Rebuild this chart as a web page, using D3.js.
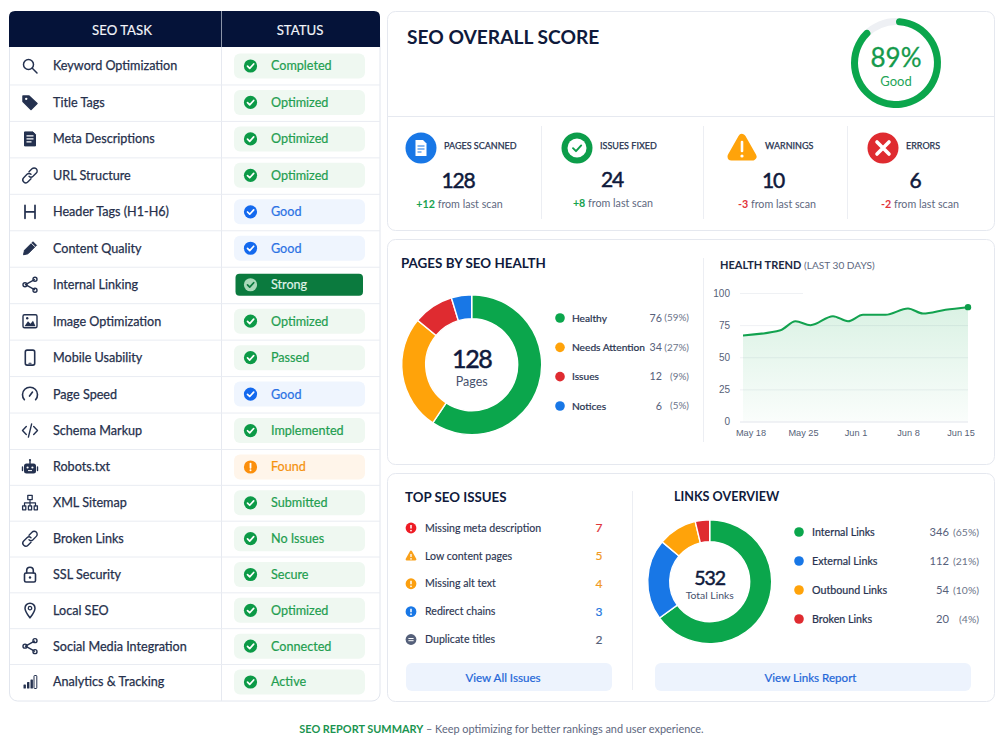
<!DOCTYPE html>
<html>
<head>
<meta charset="utf-8">
<title>SEO Report</title>
<script src="https://cdn.jsdelivr.net/npm/d3@7/dist/d3.min.js"></script>
<style>
  html, body { margin: 0; padding: 0; background: #fff; }
  svg { display: block; font-family: Lato, "Noto Sans", sans-serif; }
  text { fill: #1c2742; }
</style>
</head>
<body>
<svg id="board" width="1000" height="750"></svg>
<script>
// ---- Report data ----
const taskNames = ["Keyword Optimization","Title Tags","Meta Descriptions","URL Structure","Header Tags (H1-H6)","Content Quality","Internal Linking","Image Optimization","Mobile Usability","Page Speed","Schema Markup","Robots.txt","XML Sitemap","Broken Links","SSL Security","Local SEO","Social Media Integration","Analytics & Tracking"];
const taskStatuses = ["Completed","Optimized","Optimized","Optimized","Good","Good","Strong","Optimized","Passed","Good","Implemented","Found","Submitted","No Issues","Secure","Optimized","Connected","Active"];
const taskIcons = ["search","tag","doc","link","heading","pencil","share","image","phone","gauge","code","robot","tree","link","lock","pin","share","bars"];

const overallScore = 89;
const overallLabel = "Good";

const statLabels = ["PAGES SCANNED","ISSUES FIXED","WARNINGS","ERRORS"];
const statValues = [128, 24, 10, 6];
const statDeltas = ["+12","+8","-3","-2"];

const healthLabels = ["Healthy","Needs Attention","Issues","Notices"];
const healthValues = [76, 34, 12, 6];

const trendDates = ["2025-05-17","2025-05-22","2025-05-24","2025-05-26","2025-05-29","2025-05-31","2025-06-02","2025-06-05","2025-06-08","2025-06-10","2025-06-13","2025-06-16"];
const trendValues = [67, 71, 78, 75, 82, 78, 83, 83, 88, 84, 87, 89];
const trendTicks = ["2025-05-18","2025-05-25","2025-06-01","2025-06-08","2025-06-15"];

const issueLabels = ["Missing meta description","Low content pages","Missing alt text","Redirect chains","Duplicate titles"];
const issueCounts = [7, 5, 4, 3, 2];

const linkLabels = ["Internal Links","External Links","Outbound Links","Broken Links"];
const linkValues = [346, 112, 54, 20];

// ---- Palette ----
const GREEN = "#0ba64c", ORANGE = "#ffa30a", RED = "#df2b30", BLUE = "#1877e6", NAVY = "#0f1a3c";
const healthColors = [GREEN, ORANGE, RED, BLUE];
const linkColors = [GREEN, BLUE, ORANGE, RED];
const issueColors = ["#ee1c25", "#f9a11b", "#fb9f0f", "#1877e6", "#55607a"];
const issueTextColors = ["#e0353a", "#f19a24", "#f19a24", "#1f78e0", "#55607a"];
const statusStyles = {
  green:  { bg: "#eff8f1", dot: "#0c9a47", text: "#1f9e50", mark: "#fff" },
  blue:   { bg: "#eff5fe", dot: "#1369ee", text: "#2b72e4", mark: "#fff" },
  orange: { bg: "#fff5ea", dot: "#fb8f0c", text: "#f5920f", mark: "#fff" },
  dark:   { bg: "#0b7a3e", dot: "#a9d9b9", text: "#dff2e6", mark: "#0b7a3e" }
};
const statusKind = s => s === "Good" ? "blue" : s === "Found" ? "orange" : s === "Strong" ? "dark" : "green";

const svg = d3.select("#board");
const defs = svg.append("defs");

function label(g, x, y, str, size, opts = {}) {
  const fill = opts.fill || "#1c2742";
  const t = g.append("text").attr("x", x).attr("y", y).attr("dy", "0.35em")
    .attr("font-size", size).attr("font-weight", opts.weight || 400)
    .attr("text-anchor", opts.anchor || "start")
    .style("fill", fill).text(str);
  // A hairline of the same ink gives the regular cut a medium look
  if (opts.thick) t.attr("stroke", fill).attr("stroke-width", opts.thick);
  if (opts.tight) t.attr("letter-spacing", opts.tight);
  return t;
}
function card(x, y, w, h) {
  svg.append("rect").attr("x", x + .5).attr("y", y + .5).attr("width", w).attr("height", h)
    .attr("rx", 8).attr("fill", "#fff").attr("stroke", "#e5e8ef");
}
function rule(x1, y1, x2, y2, color = "#e6e9f0") {
  svg.append("line").attr("x1", x1).attr("y1", y1).attr("x2", x2).attr("y2", y2).attr("stroke", color);
}

// ---- Task pictograms, each drawn around the origin in a 20px box ----
const iconInk = "#24314f";
const pictograms = {
  search: g => { g.append("circle").attr("cx", -1.5).attr("cy", -1.5).attr("r", 5).call(line); g.append("path").attr("d", "M2.3 2.3L7 7").call(line); },
  tag: g => { g.append("path").attr("d", "M-7 -6.5L-1 -6.5L7 1L1 7L-7 -1Z").attr("fill", iconInk).attr("stroke", iconInk).attr("stroke-linejoin", "round").attr("stroke-width", 1.5); g.append("circle").attr("cx", -3.8).attr("cy", -3.6).attr("r", 1.2).attr("fill", "#fff"); },
  doc: g => { g.append("path").attr("d", "M-5.5 -7H3L5.5 -4.5V7H-5.5Z").attr("fill", iconInk).attr("stroke", iconInk).attr("stroke-linejoin", "round"); g.append("path").attr("d", "M-3.5 -3H3.5M-3.5 0H3.5M-3.5 3H1.5").attr("stroke", "#fff").attr("stroke-width", 1.1); },
  link: g => { g.append("path").attr("d", "M-1 -3.5L2 -6.5A2.9 2.9 0 0 1 6.3 -2.3L3 1A2.9 2.9 0 0 1 -1 1M1 3.5L-2 6.5A2.9 2.9 0 0 1 -6.3 2.3L-3 -1A2.9 2.9 0 0 1 1 -1").call(line, 1.4); },
  heading: g => { g.append("path").attr("d", "M-5 -6.5V6.5M5 -6.5V6.5M-5 0H5").call(line, 1.7); },
  pencil: g => { g.append("path").attr("d", "M-6.5 6.5L-5.5 2L3 -6.5L6.5 -3L-2 5.5Z").attr("fill", iconInk).attr("stroke", iconInk).attr("stroke-linejoin", "round"); g.append("path").attr("d", "M1.5 -5L5 -1.5").attr("stroke", "#fff").attr("stroke-width", 1); },
  share: g => { g.append("path").attr("d", "M-4.5 0L4.5 -5M-4.5 0L4.5 5").call(line, 1.4); [[-5, 0], [5, -5.5], [5, 5.5]].forEach(([x, y]) => g.append("circle").attr("cx", x).attr("cy", y).attr("r", 2).attr("fill", "#fff").call(line, 1.4)); },
  image: g => { g.append("rect").attr("x", -7).attr("y", -6.5).attr("width", 14).attr("height", 13).attr("rx", 1.5).call(line, 1.4); g.append("path").attr("d", "M-5.5 5L-2 0L0.5 2.5L3 -.5L5.5 5Z").attr("fill", iconInk); g.append("circle").attr("cx", -2.8).attr("cy", -3).attr("r", 1.2).attr("fill", iconInk); },
  phone: g => { g.append("rect").attr("x", -4.7).attr("y", -7.5).attr("width", 9.4).attr("height", 15).attr("rx", 1.8).call(line, 1.6); g.append("path").attr("d", "M-1 5.6H1").call(line, 1.2); },
  gauge: g => { g.append("path").attr("d", "M-5.6 5.6A7.5 7.5 0 1 1 5.6 5.6").call(line, 1.6); g.append("path").attr("d", "M-.5 2L2.5 -2").call(line, 1.6); },
  code: g => { g.append("path").attr("d", "M-3.7 -4L-7.5 0L-3.7 4M3.7 -4L7.5 0L3.7 4M1.6 -6.5L-1.6 6.5").call(line, 1.4); },
  robot: g => { g.append("rect").attr("x", -6).attr("y", -3.5).attr("width", 12).attr("height", 10).attr("rx", 2.5).attr("fill", iconInk); g.append("path").attr("d", "M-7.5 0V3.5M7.5 0V3.5M0 -3.5V-6.5").call(line, 1.4); g.append("circle").attr("cy", -7).attr("r", 1.1).attr("fill", iconInk); [-2.4, 2.4].forEach(x => g.append("circle").attr("cx", x).attr("cy", 0.5).attr("r", 1.1).attr("fill", "#fff")); g.append("path").attr("d", "M-2 3.6H2").attr("stroke", "#fff"); },
  tree: g => { g.append("rect").attr("x", -2.2).attr("y", -7.5).attr("width", 4.4).attr("height", 4.2).call(line, 1.3); g.append("path").attr("d", "M0 -3.3V3M-5.5 3V0H5.5V3").call(line, 1.2); [-5.8, 0, 5.8].forEach(x => g.append("rect").attr("x", x - 1.6).attr("y", 3).attr("width", 3.2).attr("height", 4).call(line, 1.3)); },
  lock: g => { g.append("rect").attr("x", -5.5).attr("y", -1.5).attr("width", 11).attr("height", 9).attr("rx", 1.5).call(line, 1.6); g.append("path").attr("d", "M-3.3 -1.5V-4A3.3 3.3 0 0 1 3.3 -4V-1.5").call(line, 1.6); g.append("circle").attr("cy", 3).attr("r", 1.2).attr("fill", iconInk); },
  pin: g => { g.append("path").attr("d", "M0 7.5C-3 3.5 -5 1 -5 -2.2A5 5 0 0 1 5 -2.2C5 1 3 3.5 0 7.5Z").call(line, 1.5); g.append("circle").attr("cy", -2.2).attr("r", 1.7).call(line, 1.3); },
  bars: g => { [[-6.5, 2.5, 4], [-3, 0, 6.5], [.5, -2.5, 9], [4, -6.5, 13]].forEach(([x, y, h], i) => g.append("rect").attr("x", x).attr("y", y).attr("width", i === 3 ? 2.8 : 2.4).attr("height", h).attr("rx", .6).attr("fill", i === 3 ? "none" : iconInk).attr("stroke", iconInk).attr("stroke-width", i === 3 ? 1 : 0)); }
};
function line(sel, w = 1.5) {
  sel.attr("fill", "none").attr("stroke", iconInk).attr("stroke-width", w).attr("stroke-linecap", "round").attr("stroke-linejoin", "round");
}

// ---- Task table ----
function drawTable() {
  const x0 = 9, x1 = 380, split = 221, top = 11, head = 47, bottom = 701;
  svg.append("rect").attr("x", x0 + .5).attr("y", top + 20).attr("width", x1 - x0 - .5).attr("height", bottom - top - 20)
    .attr("rx", 8).attr("fill", "#fff").attr("stroke", "#e2e6ee");
  svg.append("path").attr("fill", "#051339")
    .attr("d", `M${x0} ${head}V${top + 6}Q${x0} ${top} ${x0 + 6} ${top}H${x1 - 6}Q${x1} ${top} ${x1} ${top + 6}V${head}Z`);
  rule(split + .5, top, split + .5, head, "#8b94a8");
  rule(split + .5, head, split + .5, bottom, "#e6e9f0");
  label(svg, 122, 30, "SEO TASK", 13.2, { anchor: "middle", fill: "#f3f5fa", thick: .15 });
  label(svg, 300, 30, "STATUS", 13.2, { anchor: "middle", fill: "#f3f5fa", thick: .15 });

  // Row heights tighten slightly below the Robots.txt row
  const rowMid = d3.scaleLinear().domain([0, 11, 17]).range([66, 467, 682]);
  const rows = svg.append("g").selectAll("g").data(taskNames).join("g")
    .attr("transform", (d, i) => `translate(0,${rowMid(i)})`);

  rows.filter((d, i) => i > 0).append("line")
    .attr("x1", x0 + 1).attr("x2", x1)
    .attr("y1", (d, i) => Math.round((rowMid(i) - rowMid(i + 1)) / 2) + .5)
    .attr("y2", (d, i) => Math.round((rowMid(i) - rowMid(i + 1)) / 2) + .5)
    .attr("stroke", "#e9ecf2");

  rows.each(function (d, i) {
    const g = d3.select(this);
    pictograms[taskIcons[i]](g.append("g").attr("transform", "translate(30,0)"));
    label(g, 53, 0, d, 12.6, { fill: "#26304c", thick: .25 });
    const status = taskStatuses[i], kind = statusKind(status), st = statusStyles[kind];
    const inset = kind === "dark" ? [235.5, 127.5, 22] : [234, 131, 25];
    g.append("rect").attr("x", inset[0]).attr("y", -inset[2] / 2).attr("width", inset[1]).attr("height", inset[2])
      .attr("rx", kind === "dark" ? 4 : 6).attr("fill", st.bg);
    statusBadge(g.append("g").attr("transform", "translate(250.5,0)"), kind, st);
    label(g, 271, 0, status, 12.6, { fill: st.text, thick: .2 });
  });
}
function statusBadge(g, kind, st) {
  g.append("circle").attr("r", 6.6).attr("fill", st.dot);
  if (kind === "orange") {
    g.append("path").attr("d", "M0 -3.4V.8").attr("stroke", st.mark).attr("stroke-width", 1.8).attr("stroke-linecap", "round");
    g.append("circle").attr("cy", 3.3).attr("r", 1).attr("fill", st.mark);
  } else {
    g.append("path").attr("d", "M-3 .2L-.8 2.4L3.2 -2").attr("fill", "none").attr("stroke", st.mark).attr("stroke-width", 1.7).attr("stroke-linecap", "round").attr("stroke-linejoin", "round");
  }
}

// ---- Overall score ring and counters ----
function drawScore() {
  card(387, 11, 607, 219);
  rule(387, 116.5, 994, 116.5);
  label(svg, 407, 37, "SEO OVERALL SCORE", 19.2, { weight: 700, fill: NAVY });

  const turn = d3.scaleLinear().domain([0, 100]).range([0, 2 * Math.PI]);
  const ring = d3.arc().innerRadius(38).outerRadius(45).startAngle(0);
  const g = svg.append("g").attr("transform", "translate(896,63)");
  g.append("path").attr("d", ring({ endAngle: turn(100) })).attr("fill", "#eef0f4");
  g.append("path").attr("d", ring.cornerRadius(3.5)({ endAngle: turn(overallScore) })).attr("fill", GREEN);
  label(g, 0, -5, overallScore + "%", 26, { anchor: "middle", fill: "#159a4c", thick: .3 });
  label(g, 0, 18.5, overallLabel, 13, { anchor: "middle", fill: "#23a457" });

  [541, 703, 847].forEach(x => rule(x + .5, 126, x + .5, 219, "#eceef3"));

  const iconX = [421, 577, 742, 883], textX = [444, 600, 765, 906], valX = [458, 612, 773, 915], subX = [459.5, 613, 777, 920];
  const valY = [181, 180, 181, 181], subY = [204, 203, 204, 204];
  statLabels.forEach((name, i) => {
    statGlyph(svg.append("g").attr("transform", `translate(${iconX[i]},148)`), i);
    label(svg, textX[i], 146, name, 9, { fill: "#27324f", thick: .25 });
    label(svg, valX[i], valY[i], statValues[i], 21, { anchor: "middle", fill: NAVY, thick: .5, tight: -1.2 });
    const up = statDeltas[i][0] === "+";
    const t = svg.append("text").attr("x", subX[i]).attr("y", subY[i]).attr("dy", "0.35em")
      .attr("font-size", 10.7).attr("text-anchor", "middle");
    t.append("tspan").style("fill", up ? "#17a24f" : "#e2333a").attr("font-weight", 700).text(statDeltas[i]);
    t.append("tspan").style("fill", "#5e6880").text(" from last scan");
  });
}
function statGlyph(g, i) {
  if (i === 0) {
    g.append("circle").attr("r", 15.5).attr("fill", BLUE);
    g.append("path").attr("d", "M-5.5 -8H2L5.5 -4.5V8H-5.5Z").attr("fill", "#fff");
    g.append("path").attr("d", "M-3.5 -2H3.5M-3.5 1H3.5M-3.5 4H.5").attr("stroke", BLUE).attr("stroke-width", 1.2);
  } else if (i === 1) {
    g.append("circle").attr("r", 15.5).attr("fill", "#0c9d4a");
    g.append("circle").attr("r", 9.5).attr("fill", "#fff");
    g.append("path").attr("d", "M-4 .2L-1 3.2L4.2 -2.6").attr("fill", "none").attr("stroke", "#0c9d4a").attr("stroke-width", 1.9).attr("stroke-linecap", "round").attr("stroke-linejoin", "round");
  } else if (i === 2) {
    g.append("path").attr("d", "M0 -10L10.5 8.5H-10.5Z").attr("fill", ORANGE).attr("stroke", ORANGE).attr("stroke-width", 8).attr("stroke-linejoin", "round");
    g.append("path").attr("d", "M0 -6V3").attr("stroke", "#fff").attr("stroke-width", 2.6).attr("stroke-linecap", "round");
    g.append("circle").attr("cy", 8).attr("r", 1.6).attr("fill", "#fff");
  } else {
    g.append("circle").attr("r", 15.5).attr("fill", RED);
    g.append("path").attr("d", "M-6 -6L6 6M6 -6L-6 6").attr("stroke", "#fff").attr("stroke-width", 3.6).attr("stroke-linecap", "round");
  }
}

// ---- Shared donut with a centre caption ----
function donut(cx, cy, outer, inner, values, colors, big, small) {
  const pie = d3.pie().sort(null).value(d => d);
  const arc = d3.arc().innerRadius(inner).outerRadius(outer);
  const g = svg.append("g").attr("transform", `translate(${cx},${cy})`);
  g.selectAll("path").data(pie(values)).join("path")
    .attr("d", arc).attr("fill", (d, i) => colors[i]).attr("stroke", "#fff").attr("stroke-width", 1.4);
  label(g, 0, big.dy, d3.sum(values), big.size, { anchor: "middle", fill: NAVY, thick: .5, tight: big.tight });
  label(g, 0, small.dy, small.text, small.size, { anchor: "middle", fill: "#46516d" });
}
function legend(names, values, colors, pos, rowY, size) {
  const total = d3.sum(values);
  names.forEach((n, i) => {
    const y = rowY(i);
    svg.append("circle").attr("cx", pos.dot).attr("cy", y).attr("r", 4.8).attr("fill", colors[i]);
    label(svg, pos.text, y, n, size, { fill: "#27324f", thick: .2 });
    label(svg, pos.val, y, values[i], size + .5, { anchor: "end", fill: "#56607a" });
    label(svg, pos.pct, y, `(${Math.round(values[i] / total * 100)}%)`, size - .3, { anchor: "end", fill: "#6b7489" });
  });
}

// ---- Pages by SEO health ----
function drawHealth() {
  card(387, 239, 607, 225);
  rule(703.5, 258, 703.5, 442, "#eceef3");
  label(svg, 401, 263, "PAGES BY SEO HEALTH", 13.4, { weight: 700, fill: NAVY });
  donut(471.7, 364.7, 70, 46, healthValues, healthColors,
    { size: 25, dy: -5, tight: -1.4 }, { text: "Pages", size: 12.5, dy: 17 });
  legend(healthLabels, healthValues, healthColors, { dot: 560, text: 572, val: 662, pct: 689 },
    d3.scaleLinear().domain([0, 3]).range([318, 406]), 10.2);
}

// ---- Health trend ----
function drawTrend() {
  const t = svg.append("text").attr("x", 720).attr("y", 265.5).attr("dy", "0.35em").attr("font-size", 11);
  t.append("tspan").attr("font-weight", 700).style("fill", "#1c2742").text("HEALTH TREND ");
  t.append("tspan").attr("font-size", 10.1).style("fill", "#5e6880").text("(LAST 30 DAYS)");

  const parse = d3.utcParse("%Y-%m-%d");
  const dates = trendDates.map(parse);
  const x = d3.scaleUtc().domain([dates[0], dates[dates.length - 1]]).range([743, 968]);
  const y = d3.scaleLinear().domain([0, 100]).range([421.5, 293]);

  const yAxis = svg.append("g").attr("transform", "translate(738,0)")
    .call(d3.axisLeft(y).tickValues([0, 25, 50, 75, 100]).tickSize(0).tickPadding(8));
  yAxis.select(".domain").remove();
  yAxis.selectAll("text").attr("font-size", 10).style("fill", "#565f78").attr("font-family", "inherit");

  svg.append("g").selectAll("line").data([0, 25, 50, 75, 100]).join("line")
    .attr("x1", 740).attr("x2", d => d === 100 ? 803 : 968)
    .attr("y1", d => y(d) + .5).attr("y2", d => y(d) + .5)
    .attr("stroke", d => d === 0 ? "#e2e5ec" : "#eff1f4");

  const fade = defs.append("linearGradient").attr("id", "trendFill").attr("x1", 0).attr("x2", 0).attr("y1", 0).attr("y2", 1);
  fade.append("stop").attr("offset", 0).attr("stop-color", GREEN).attr("stop-opacity", .15);
  fade.append("stop").attr("offset", 1).attr("stop-color", GREEN).attr("stop-opacity", .02);

  const series = dates.map((d, i) => [d, trendValues[i]]);
  const curve = d3.curveMonotoneX;
  svg.append("path").datum(series).attr("fill", "url(#trendFill)")
    .attr("d", d3.area().x(d => x(d[0])).y0(y(0)).y1(d => y(d[1])).curve(curve));
  svg.append("path").datum(series).attr("fill", "none").attr("stroke", "#12a24f").attr("stroke-width", 2)
    .attr("stroke-linejoin", "round")
    .attr("d", d3.line().x(d => x(d[0])).y(d => y(d[1])).curve(curve));
  const last = series[series.length - 1];
  svg.append("circle").attr("cx", x(last[0])).attr("cy", y(last[1])).attr("r", 3.2).attr("fill", "#0c9d4a");

  const xAxis = svg.append("g").attr("transform", "translate(0,421)")
    .call(d3.axisBottom(x).tickValues(trendTicks.map(parse)).tickFormat(d3.utcFormat("%b %-d")).tickSize(0).tickPadding(8));
  xAxis.select(".domain").remove();
  xAxis.selectAll("text").attr("font-size", 9.2).style("fill", "#565f78").attr("font-family", "inherit");
}

// ---- Top issues ----
function issueGlyph(g, i) {
  const c = issueColors[i];
  if (i === 1) {
    g.append("path").attr("d", "M0 -4L4.2 3.4H-4.2Z").attr("fill", c).attr("stroke", c).attr("stroke-width", 2.4).attr("stroke-linejoin", "round");
    g.append("path").attr("d", "M0 -2V1").attr("stroke", "#fff").attr("stroke-width", 1.3);
    g.append("circle").attr("cy", 3).attr("r", .8).attr("fill", "#fff");
  } else {
    g.append("circle").attr("r", 5.4).attr("fill", c);
    if (i === 4) {
      g.append("path").attr("d", "M-2.6 -1H2.6M-2.6 1.2H2.6").attr("stroke", "#fff").attr("stroke-width", 1);
    } else {
      g.append("path").attr("d", "M0 -3V.6").attr("stroke", "#fff").attr("stroke-width", 1.5);
      g.append("circle").attr("cy", 2.6).attr("r", .9).attr("fill", "#fff");
    }
  }
}
function button(x, y, w, h, str, cx) {
  svg.append("rect").attr("x", x).attr("y", y).attr("width", w).attr("height", h).attr("rx", 6).attr("fill", "#edf3fd");
  label(svg, cx, y + h / 2 + .5, str, 11.6, { anchor: "middle", fill: "#2366d8", thick: .2 });
}
function drawIssues() {
  card(387, 473, 607, 228);
  rule(632.5, 491, 632.5, 690, "#eceef3");
  label(svg, 405, 497, "TOP SEO ISSUES", 13.3, { weight: 700, fill: NAVY });
  const rowY = d3.scaleLinear().domain([0, 4]).range([528, 639.5]);
  issueLabels.forEach((n, i) => {
    issueGlyph(svg.append("g").attr("transform", `translate(411,${rowY(i)})`), i);
    label(svg, 425, rowY(i), n, 10.6, { fill: "#2c3652", thick: .15 });
    label(svg, 599, rowY(i), issueCounts[i], 12, { anchor: "middle", fill: issueTextColors[i], thick: .2 });
  });
  button(406, 663, 206, 28, "View All Issues", 503);
}

// ---- Links overview ----
function drawLinks() {
  label(svg, 674, 497, "LINKS OVERVIEW", 12.6, { weight: 700, fill: NAVY });
  donut(709.7, 581.7, 62, 40, linkValues, linkColors,
    { size: 19.5, dy: -4, tight: -1 }, { text: "Total Links", size: 10.4, dy: 13.5 });
  legend(linkLabels, linkValues, linkColors, { dot: 799, text: 812, val: 949, pct: 979 },
    d3.scaleLinear().domain([0, 3]).range([532, 619]), 10.7);
  button(655, 663, 316, 28, "View Links Report", 810.5);
}

drawTable();
drawScore();
drawHealth();
drawTrend();
drawIssues();
drawLinks();

// Footer line
const foot = svg.append("text").attr("x", 501.5).attr("y", 729).attr("dy", "0.35em").attr("font-size", 10.9).attr("text-anchor", "middle");
foot.append("tspan").attr("font-weight", 700).style("fill", "#1a9450").text("SEO REPORT SUMMARY");
foot.append("tspan").style("fill", "#5e6880").text(" – Keep optimizing for better rankings and user experience.");
</script>
</body>
</html>
